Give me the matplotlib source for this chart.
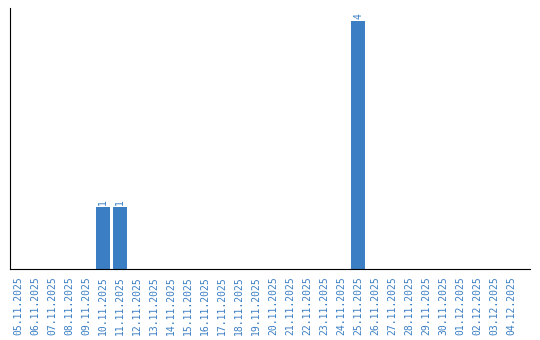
import datetime as dt
import matplotlib
matplotlib.use("Agg")
from matplotlib import pyplot as plt

start = dt.date(2025, 11, 5)
dates = [(start + dt.timedelta(days=i)).strftime("%d.%m.%Y") for i in range(30)]
counts = [0] * 30
counts[dates.index("10.11.2025")] = 1
counts[dates.index("11.11.2025")] = 1
counts[dates.index("25.11.2025")] = 4

blue = "#3b7ec3"

fig = plt.figure(figsize=(5.4, 3.4), dpi=100)
ax = fig.add_axes([10 / 540, 71 / 340, 520 / 540, 261 / 340])

x = list(range(len(dates)))
bars = ax.bar(x, counts, width=0.82, color=blue)
for xi, c in zip(x, counts):
    if c > 0:
        ax.text(xi, c + 0.04, str(c), rotation=90, ha="center", va="bottom",
                color=blue, fontsize=7, family="DejaVu Sans Mono")

ax.set_xlim(-0.47, 30.1)
ax.set_ylim(0, 4.21)
ax.set_xticks(x)
ax.set_xticklabels(dates, rotation=90, color=blue, fontsize=7,
                   family="DejaVu Sans Mono")
ax.tick_params(axis="x", length=0, pad=5)
ax.set_yticks([])
ax.spines["top"].set_visible(False)
ax.spines["right"].set_visible(False)

fig.savefig("out.png", dpi=100)
